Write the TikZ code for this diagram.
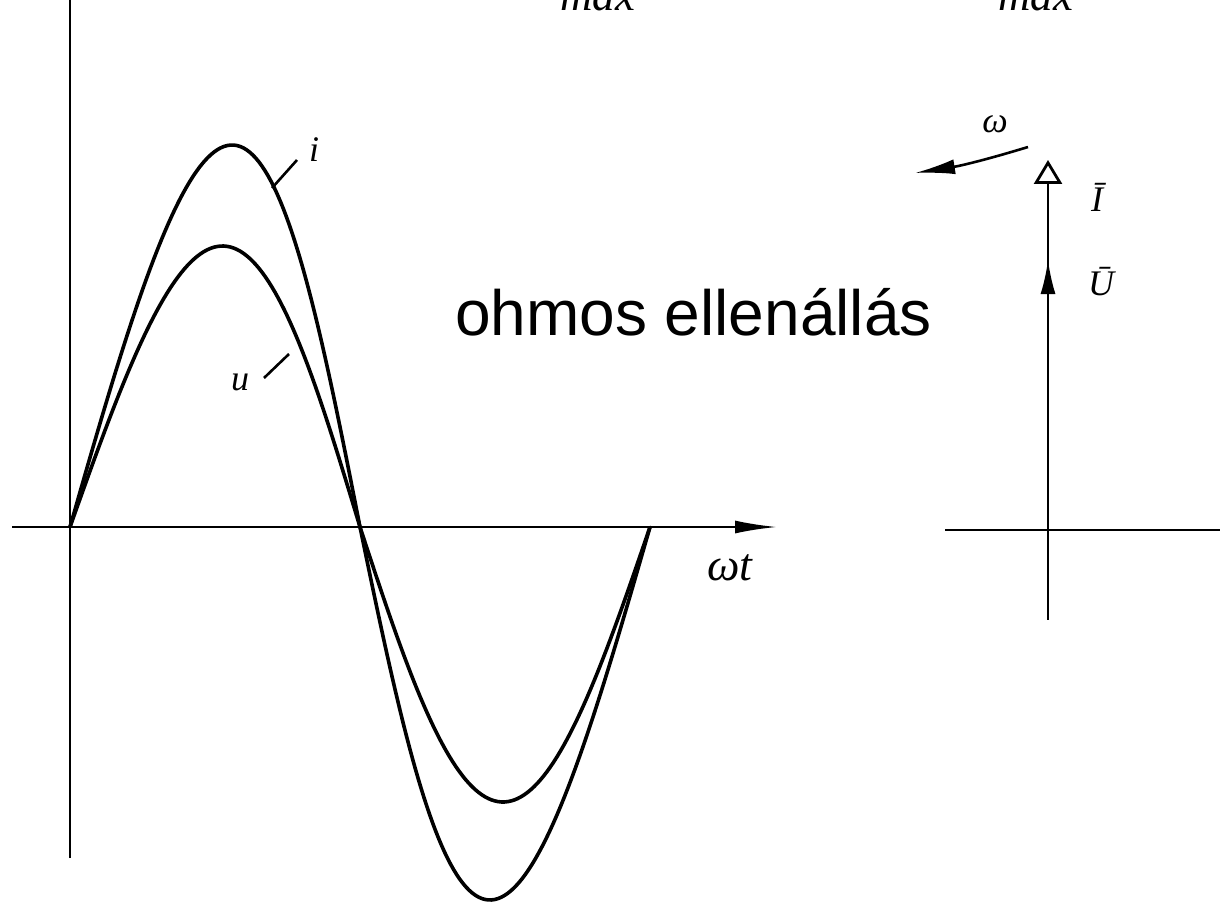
\documentclass[tikz,border=0pt]{standalone}
\usepackage{fontspec}
\setmainfont{Liberation Serif}
\newfontfamily\helv{Liberation Sans}
\usetikzlibrary{arrows.meta}
\tikzset{
  curve/.style={line width=3.6pt, line join=round, line cap=round},
  axis/.style={line width=2.4pt},
  lead/.style={line width=2.6pt},
  hand/.style={font=\fontsize{36}{38}\selectfont\itshape, inner sep=0pt},
}
\begin{document}
\begin{tikzpicture}[x=1pt,y=-1pt]
\useasboundingbox (0,0) rectangle (1220,904);
\clip (0,0) rectangle (1220,904);
% left axes
\coordinate (O) at (70,527);
\coordinate (yb) at (70,858);
\coordinate (yt) at (70,0);
\coordinate (xl) at (12,527);
\coordinate (xr) at (777,527);
\draw[axis] (yb) -- (yt);
\draw[axis,-{Latex[length=42pt,width=13pt]}] (xl) -- (xr);
\node[hand, font=\fontsize{46}{48}\selectfont\itshape] (wt) at (730,568) {ωt};
% i curve
\draw[curve] plot[domain=0:1, samples=90, variable=\s] ({70+290*(\s+0.059*sin(180*\s))}, {527-382*sin(180*\s)});
\draw[curve] plot[domain=0:1, samples=90, variable=\s] ({360+290*(\s-0.052*sin(180*\s))}, {527+373*sin(180*\s)});
% u curve
\draw[curve] plot[domain=0:1, samples=90, variable=\s] ({70+290*(\s+0.026*sin(180*\s))}, {527-281*sin(180*\s)});
\draw[curve] plot[domain=0:1, samples=90, variable=\s] ({360+290*(\s-0.007*sin(180*\s))}, {527+275*sin(180*\s)});
% labels
\node[hand] (il) at (314,150) {i};
\coordinate (ia) at (297,160);
\coordinate (ib) at (272,188);
\draw[lead] (ia) -- (ib);
\node[hand] (ul) at (240,382) {u};
\coordinate (ua) at (264,378);
\coordinate (ub) at (289,354);
\draw[lead] (ua) -- (ub);
% title text
\node[font=\helv\fontsize{64}{70}\selectfont, anchor=base west, inner sep=0pt] (title) at (455,335) {ohmos ellenállás};
% top fragments
\node[font=\fontsize{45}{48}\selectfont\itshape, anchor=base west, inner sep=0pt] (m1) at (560,11) {max};
\node[font=\fontsize{45}{48}\selectfont\itshape, anchor=base west, inner sep=0pt] (m2) at (998,11) {max};
% phasor diagram
\coordinate (P) at (1048,530);
\coordinate (pl) at (945,530);
\coordinate (pr) at (1220,530);
\coordinate (pb) at (1048,620);
\coordinate (Itip) at (1048,160);
\coordinate (Utip) at (1048,260);
\draw[axis] (pl) -- (pr);
\draw[axis] (P) -- (pb);
\draw[axis,-{Triangle[open,length=24pt,width=28pt,line width=2.8pt]}] (P) -- (Itip);
\draw[axis,-{Latex[length=34pt,width=15pt]}] (P) -- (Utip);
\node[hand] (Il) at (1097,197) {Ī};
\node[hand] (Ul) at (1101,282) {Ū};
\coordinate (wa) at (1028,147);
\coordinate (wb) at (915,173);
\draw[lead,-{Latex[length=40pt,width=15pt]}] (wa) to[bend left=4] (wb);
\node[hand] (wl) at (995,124) {ω};
\end{tikzpicture}
\end{document}
